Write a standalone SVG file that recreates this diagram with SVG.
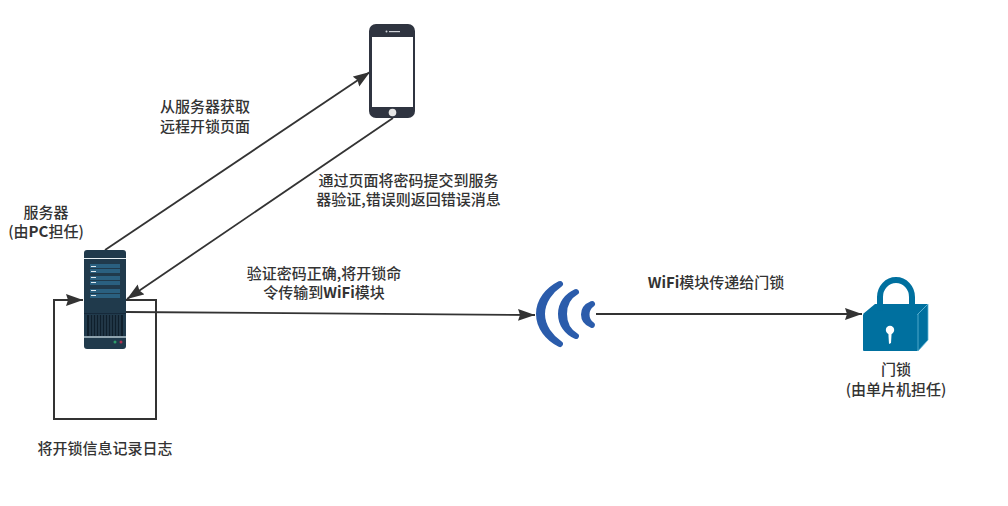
<svg xmlns="http://www.w3.org/2000/svg" width="1008" height="506" viewBox="0 0 1008 506">
<style>
.t{font-family:"Noto Sans CJK SC","Noto Sans",sans-serif;font-size:15px;fill:#333;text-anchor:middle;font-weight:500}
.b{font-weight:700}
.c{fill:none;stroke:#333;stroke-width:1.8}
.l{fill:none;stroke:#333;stroke-width:2}
.w{fill:#2b5cab;stroke:#2b5cab;stroke-width:6;stroke-linejoin:round}
</style>
<defs>
<marker id="a" markerUnits="userSpaceOnUse" markerWidth="18" markerHeight="13" refX="17" refY="6.500" orient="auto"><path d="M0 0.500L17 6.500L0 12.500L2 6.500Z" fill="#333"/></marker>
</defs>
<rect width="1008" height="506" fill="#fff"/>
<g id="connectors">
<path class="c" d="M105 250L370 72" marker-end="url(#a)"/>
<path class="c" d="M393 118L127 299" marker-end="url(#a)"/>
<path class="c" d="M126 312L535 315" marker-end="url(#a)"/>
<path class="c" d="M596 314L862 314" marker-end="url(#a)"/>
<path class="l" d="M126 300H156V419H54V300H83" marker-end="url(#a)"/>
</g>
<g id="server">
<rect x="84" y="250" width="42" height="99" rx="3" fill="#203a4c"/>
<rect x="84" y="258" width="42" height="1" fill="#e8f0f4"/>
<g fill="#2a6080">
<rect x="90" y="264" width="30" height="4"/><rect x="90" y="269" width="30" height="4"/>
<rect x="90" y="276" width="30" height="4"/><rect x="90" y="281" width="30" height="4"/>
<rect x="90" y="289" width="30" height="4"/><rect x="90" y="294" width="30" height="4"/>
</g>
<g fill="#dfe9ee">
<rect x="91" y="266" width="5" height="1"/><rect x="91" y="271" width="5" height="1"/>
<rect x="91" y="277" width="5" height="1"/><rect x="91" y="282" width="5" height="1"/>
<rect x="91" y="290" width="5" height="1"/><rect x="91" y="295" width="5" height="1"/>
</g>
<rect x="84" y="313" width="42" height="1" fill="#16293a"/>
<rect x="87" y="315" width="36" height="21" fill="#0f1f2c"/>
<path d="M90 315v21M93 315v21M96 315v21M99 315v21M102 315v21M105 315v21M108 315v21M111 315v21M114 315v21M117 315v21M120 315v21" stroke="#3d5b70" stroke-width=".8"/>
<rect x="84" y="336" width="42" height="2" fill="#8fa3ae"/>
<circle cx="115" cy="342" r="1.500" fill="#2e9e6b"/>
<circle cx="121" cy="342" r="1.500" fill="#b0304f"/>
</g>
<g id="phone">
<rect x="369" y="24" width="46" height="94" rx="7" fill="#2f3440"/>
<rect x="372" y="37" width="41" height="70" fill="#fff"/>
<rect x="389" y="31" width="11" height="1.200" fill="#cfd2d8"/>
<circle cx="386.500" cy="31.500" r="1" fill="#cfd2d8"/>
<circle cx="392.500" cy="112.500" r="3.800" fill="#e6e6e6"/>
</g>
<g id="wifi">
<path class="w" d="M560 284C548 290 539 301 539 314C539 327 548 338 560 344C551 338 542 327 542 314C542 301 551 290 560 284Z"/>
<path class="w" d="M576 292C567 296 561 304 561 314C561 324 567 332 576 336C569 332 564 324 564 314C564 304 569 296 576 292Z"/>
<path class="w" d="M592 304C587 306 584 310 584 314.500C584 319 587 323 592 325C589 323 586.500 319 586.500 314.500C586.500 310 589 306 592 304Z"/>
</g>
<g id="lock">
<path d="M863 314L875 304H928L918 314Z" fill="#00709f"/>
<path d="M880 308V297A16 17 0 0 1 912 297V308" fill="none" stroke="#00709f" stroke-width="6" stroke-linecap="round"/>
<rect x="863" y="314" width="55" height="37" rx="1" fill="#00709f"/>
<path d="M918 314L928 304V340L918 351Z" fill="#00709f" stroke="#5fb6d6" stroke-width=".8"/>
<circle cx="890" cy="330" r="4.200" fill="#fff"/>
<path d="M888.300 332L889 344L891 343L891.700 332Z" fill="#fff"/>
</g>
<g id="labels">
<text class="t" x="205" y="112">从服务器获取</text>
<text class="t" x="205" y="132">远程开锁页面</text>
<text class="t" x="408.500" y="186">通过页面将密码提交到服务</text>
<text class="t" x="408.500" y="205">器验证,错误则返回错误消息</text>
<text class="t" x="46" y="218">服务器</text>
<text class="t" x="46" y="237">(由<tspan class="b">PC</tspan>担任)</text>
<text class="t" x="324" y="279">验证密码正确,将开锁命</text>
<text class="t" x="324" y="298">令传输到<tspan class="b">WiFi</tspan>模块</text>
<text class="t" x="716" y="288"><tspan class="b">WiFi</tspan>模块传递给门锁</text>
<text class="t" x="896" y="375">门锁</text>
<text class="t" x="896" y="395">(由单片机担任)</text>
<text class="t" x="105" y="454">将开锁信息记录日志</text>
</g>
</svg>
